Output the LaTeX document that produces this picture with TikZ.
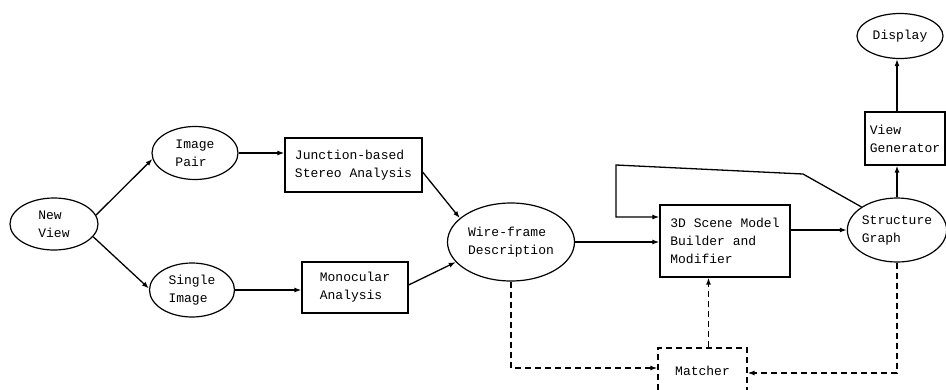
\documentclass[tikz,border=0pt]{standalone}
\usepackage{fontspec}
\setmainfont{Liberation Mono}
\usetikzlibrary{shapes.geometric,arrows.meta}
\begin{document}
\begin{tikzpicture}[x=1pt,y=-1pt,
  every node/.style={font=\fontsize{13}{18}\selectfont, align=left, inner sep=0pt},
  oval/.style={draw, ellipse, line width=1.2pt},
  box/.style={draw, rectangle, line width=1.2pt},
  arr/.style={line width=1.3pt, -{Latex[length=7pt,width=5pt]}},
  dashline/.style={dash pattern=on 6pt off 4pt},
  darr/.style={arr, dashline},
]
\useasboundingbox (0,0) rectangle (946,389);
\clip (0,0) rectangle (946,389);
\fill[white] (0,0) rectangle (946,389);

\node[oval, minimum width=88pt, minimum height=52pt] (nv) at (54,224) {New\\View};
\node[oval, minimum width=86pt, minimum height=53pt] (ip) at (195,153) {Image\\Pair};
\node[oval, minimum width=85pt, minimum height=54pt] (si) at (192,290) {Single\\Image};
\node[box, minimum width=137pt, minimum height=54pt] (js) at (353.5,165) {Junction-based\\Stereo Analysis};
\node[box, minimum width=106pt, minimum height=51pt] (mo) at (355,287.5) {Monocular\\Analysis};
\node[oval, minimum width=127pt, minimum height=78pt] (wf) at (511,242) {Wire-frame\\Description};
\node[box, minimum width=130pt, minimum height=72pt] (sm) at (725,241) {3D Scene Model\\Builder and\\Modifier};
\node[oval, minimum width=98pt, minimum height=64pt] (sg) at (897,230) {Structure\\Graph};
\node[box, minimum width=80pt, minimum height=53pt] (vg) at (905,138.5) {View\\Generator};
\node[oval, minimum width=86pt, minimum height=45pt] (dp) at (900,36) {Display};
\node[box, dashline, minimum width=89pt, minimum height=46pt] (ma) at (702.5,371) {Matcher};

\coordinate (fb1) at (803,174);
\coordinate (fb2) at (616,165);
\coordinate (fb3) at (616,217);

\draw[arr] (nv.12) -- (ip.188);
\draw[arr] (nv.-18) -- (si.178);
\draw[arr] (ip.east) -- (ip.east -| js.west);
\draw[arr] (si.east) -- (si.east -| mo.west);
\draw[arr] ([yshift=-7pt]js.east) -- (wf.155);
\draw[arr] ([yshift=2.5pt]mo.east) -- (wf.200);
\draw[arr] (wf.east) -- (wf.east -| sm.west);
\draw[arr] (sg.west -| sm.east) -- (sg.west);
\draw[arr] (sg.north west) -- (fb1) -- (fb2) -- (fb3) -- (fb3 -| sm.west);
\draw[arr] (sg.north) -- (sg.north |- vg.south);
\draw[arr] (vg.north -| sg.north) -- (dp.south -| sg.north);

\draw[darr] (wf.south) |- ([yshift=3pt]ma.west);
\draw[darr] (sg.south) |- ([yshift=-2pt]ma.east);
\draw[darr] ([xshift=6pt]ma.north) -- ([xshift=6pt]ma.north |- sm.south);
\end{tikzpicture}
\end{document}
